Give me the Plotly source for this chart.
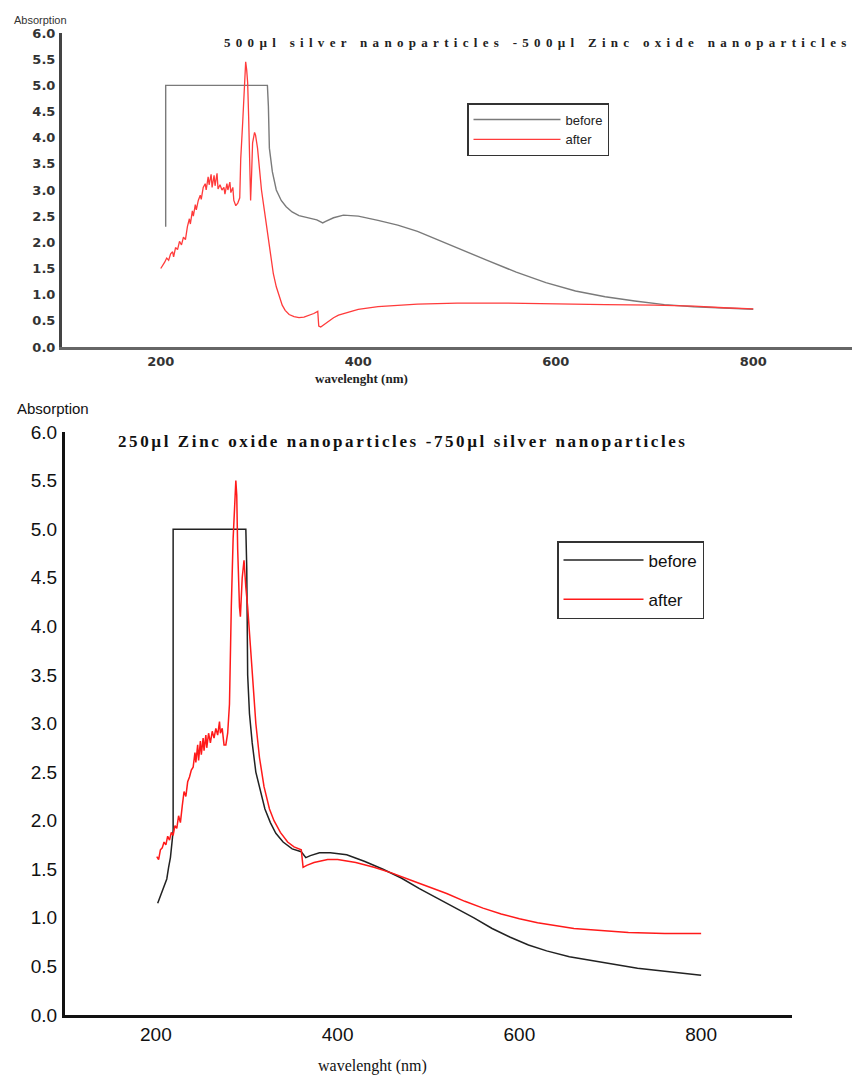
import plotly.graph_objects as go

# ---------------- data ----------------
top_title = "500µl silver nanoparticles -500µl Zinc oxide nanoparticles"
bottom_title = "250µl Zinc oxide nanoparticles -750µl silver nanoparticles"
series_names = ["before", "after"]
x_ticks = [200, 400, 600, 800]
y_ticks = [0.0, 0.5, 1.0, 1.5, 2.0, 2.5, 3.0, 3.5, 4.0, 4.5, 5.0, 5.5, 6.0]

top_before_wl = [205, 205, 308, 309, 310, 313, 317, 322, 327, 333, 340, 350, 358, 361, 364, 367,
                 375, 385, 400, 420, 440, 460, 480, 500, 530, 560, 590, 620, 650, 680, 710, 740, 770, 800]
top_before_abs = [2.30, 5.00, 5.00, 4.60, 3.80, 3.35, 3.00, 2.80, 2.68, 2.58, 2.51, 2.46, 2.43, 2.40, 2.37, 2.40,
                  2.47, 2.52, 2.50, 2.42, 2.33, 2.21, 2.05, 1.90, 1.66, 1.43, 1.23, 1.07, 0.96, 0.88, 0.81, 0.77, 0.74, 0.72]

top_after_wl = [200, 202, 204, 206, 208, 210, 212, 213, 215, 217, 219, 221, 223, 225, 227, 229, 230, 232, 233,
                235, 236, 238, 240, 241, 243, 245, 246, 248, 249, 251, 252, 254, 255, 257, 258, 260, 262, 264,
                265, 267, 268, 270, 271, 273, 274, 276, 278, 280, 281, 283, 285, 286, 287, 288, 289, 290, 291,
                292, 293, 295, 296, 298, 300, 302, 305, 308, 311, 314, 317, 320, 323, 326, 330, 335, 340, 345,
                350, 355, 359, 360, 362, 366, 370, 375, 380, 390, 400, 420, 440, 460, 480, 500, 550, 600, 650,
                700, 740, 770, 800]
top_after_abs = [1.50, 1.55, 1.62, 1.70, 1.66, 1.78, 1.82, 1.72, 1.90, 1.86, 2.02, 1.95, 2.10, 2.05, 2.30, 2.45,
                 2.35, 2.60, 2.50, 2.72, 2.62, 2.80, 2.90, 2.82, 3.05, 3.12, 3.00, 3.25, 3.10, 3.30, 3.05, 3.28,
                 3.08, 3.32, 3.02, 3.10, 3.00, 3.05, 2.92, 3.12, 3.00, 3.15, 2.95, 3.05, 2.80, 2.70, 2.75, 2.85,
                 3.60, 4.30, 5.20, 5.45, 5.30, 5.05, 4.40, 3.60, 2.80, 3.30, 3.90, 4.10, 4.05, 3.80, 3.40, 3.00,
                 2.60, 2.20, 1.75, 1.40, 1.15, 0.95, 0.80, 0.70, 0.62, 0.58, 0.56, 0.57, 0.60, 0.64, 0.68, 0.40,
                 0.38, 0.44, 0.50, 0.56, 0.61, 0.67, 0.72, 0.77, 0.80, 0.82, 0.83, 0.84, 0.84, 0.82, 0.81, 0.80,
                 0.78, 0.75, 0.73]

bottom_before_wl = [202, 204, 206, 208, 210, 212, 214, 216, 218, 219, 219, 299, 300, 301, 303, 306, 310, 315,
                    320, 326, 332, 340, 350, 360, 362, 365, 370, 380, 392, 410, 430, 450, 470, 490, 510, 530,
                    550, 570, 590, 610, 630, 655, 680, 705, 730, 760, 800]
bottom_before_abs = [1.15, 1.20, 1.24, 1.30, 1.33, 1.40, 1.52, 1.62, 1.80, 1.90, 5.00, 5.00, 4.60, 3.50, 3.10,
                     2.80, 2.50, 2.30, 2.12, 1.98, 1.87, 1.78, 1.71, 1.68, 1.66, 1.62, 1.64, 1.67, 1.67, 1.65,
                     1.58, 1.50, 1.41, 1.30, 1.20, 1.10, 1.00, 0.89, 0.80, 0.72, 0.66, 0.60, 0.56, 0.52, 0.48,
                     0.45, 0.41]

bottom_after_wl = [201, 203, 205, 207, 209, 211, 213, 215, 217, 219, 221, 223, 225, 227, 229, 231, 233, 235,
                   237, 239, 241, 243, 244, 246, 247, 249, 250, 252, 253, 255, 256, 258, 260, 262, 264, 266,
                   268, 270, 271, 273, 275, 277, 279, 281, 283, 285, 287, 288, 289, 290, 292, 293, 295, 297,
                   299, 301, 304, 307, 310, 314, 319, 325, 330, 337, 345, 352, 360, 362, 366, 374, 389, 400,
                   420, 440, 460, 480, 500, 520, 540, 560, 580, 600, 620, 640, 660, 690, 720, 760, 800]
bottom_after_abs = [1.63, 1.60, 1.70, 1.72, 1.78, 1.75, 1.84, 1.80, 1.88, 1.85, 1.95, 1.92, 2.05, 1.98, 2.15,
                    2.30, 2.25, 2.40, 2.45, 2.52, 2.55, 2.70, 2.60, 2.78, 2.62, 2.82, 2.68, 2.85, 2.72, 2.88,
                    2.75, 2.90, 2.80, 2.92, 2.85, 2.95, 2.88, 3.02, 2.90, 2.95, 2.78, 2.78, 2.90, 3.20, 4.20,
                    4.90, 5.30, 5.50, 5.35, 4.80, 4.20, 4.10, 4.50, 4.68, 4.40, 4.20, 3.80, 3.40, 3.00, 2.65,
                    2.35, 2.12, 2.00, 1.88, 1.78, 1.73, 1.70, 1.52, 1.54, 1.57, 1.60, 1.60, 1.57, 1.52, 1.46,
                    1.39, 1.32, 1.25, 1.17, 1.10, 1.04, 0.99, 0.95, 0.92, 0.89, 0.87, 0.85, 0.84, 0.84]

# ---------------- figure ----------------
W, H = 854, 1077
def px(x):
    return x / W
def py(y):
    return 1 - y / H

fig = go.Figure()

fig.add_trace(go.Scatter(x=top_before_wl, y=top_before_abs, mode="lines", name=series_names[0],
                         line=dict(color="#7a7a7a", width=1.4), xaxis="x", yaxis="y", legend="legend",
                         legendgroup="t1"))
fig.add_trace(go.Scatter(x=top_after_wl, y=top_after_abs, mode="lines", name=series_names[1],
                         line=dict(color="#ff3b3b", width=1.3), xaxis="x", yaxis="y", legend="legend",
                         legendgroup="t2"))
fig.add_trace(go.Scatter(x=bottom_before_wl, y=bottom_before_abs, mode="lines", name=series_names[0],
                         line=dict(color="#222222", width=1.5), xaxis="x2", yaxis="y2", legend="legend2",
                         legendgroup="b1"))
fig.add_trace(go.Scatter(x=bottom_after_wl, y=bottom_after_abs, mode="lines", name=series_names[1],
                         line=dict(color="#ff1a1a", width=1.5), xaxis="x2", yaxis="y2", legend="legend2",
                         legendgroup="b2"))

top_tick_font = dict(family="DejaVu Sans", size=13, color="#333333", weight="bold")
bot_tick_font = dict(family="Liberation Sans", size=19, color="#111111")

fig.update_layout(
    width=W, height=H,
    margin=dict(l=0, r=0, t=0, b=0, autoexpand=False),
    paper_bgcolor="white", plot_bgcolor="white",
    showlegend=True,
    xaxis=dict(domain=[px(62), px(852)], range=[100, 900], tickvals=x_ticks, automargin=False,
               showgrid=False, zeroline=False, showline=True, linecolor="#666666", linewidth=3,
               ticks="", tickfont=top_tick_font, anchor="y"),
    yaxis=dict(domain=[py(347), py(33)], range=[0, 6], tickvals=y_ticks, tickformat=".1f", automargin=False,
               showgrid=False, zeroline=False, showline=True, linecolor="#444444", linewidth=3,
               ticks="", tickfont=top_tick_font, anchor="x", ticklabelstandoff=1),
    xaxis2=dict(domain=[px(65), px(792)], range=[100, 900], tickvals=x_ticks, automargin=False,
                showgrid=False, zeroline=False, showline=True, linecolor="#111111", linewidth=3,
                ticks="", tickfont=bot_tick_font, anchor="y2"),
    yaxis2=dict(domain=[py(1015), py(432)], range=[0, 6], tickvals=y_ticks, tickformat=".1f", automargin=False,
                showgrid=False, zeroline=False, showline=True, linecolor="#111111", linewidth=3,
                ticks="", tickfont=bot_tick_font, anchor="x2", ticklabelstandoff=1),
    legend=dict(x=px(467), y=py(103), xanchor="left", yanchor="top",
                bordercolor="#333333", borderwidth=1.5, bgcolor="white",
                font=dict(family="Liberation Sans", size=13, color="#222222"),
                itemwidth=87, tracegroupgap=0, traceorder="grouped"),
    legend2=dict(x=px(557), y=py(541), xanchor="left", yanchor="top",
                 bordercolor="#333333", borderwidth=1.5, bgcolor="white",
                 font=dict(family="Liberation Sans", size=17, color="#111111"),
                 itemwidth=80, tracegroupgap=14, traceorder="grouped"),
)

annotations = [
    dict(text=f'<span style="letter-spacing:5.3px">{top_title}</span>', x=px(538), y=py(43),
         font=dict(family="Liberation Serif", size=13, color="#222222", weight="bold")),
    dict(text=f'<span style="letter-spacing:2.6px">{bottom_title}</span>', x=px(403), y=py(441),
         font=dict(family="Liberation Serif", size=17, color="#111111", weight="bold")),
    dict(text="Absorption", x=px(12), y=py(20), xanchor="left",
         font=dict(family="Liberation Sans", size=11, color="#333333")),
    dict(text="Absorption", x=px(15), y=py(408), xanchor="left",
         font=dict(family="Liberation Sans", size=15, color="#111111")),
    dict(text="wavelenght (nm)", x=px(361), y=py(378),
         font=dict(family="Liberation Serif", size=13, color="#222222", weight="bold")),
    dict(text="wavelenght (nm)", x=px(372), y=py(1066),
         font=dict(family="Liberation Serif", size=16, color="#111111")),
]
for a in annotations:
    a.setdefault("xanchor", "center")
    a.update(xref="paper", yref="paper", showarrow=False, yanchor="middle")
fig.update_layout(annotations=annotations)

fig.write_html("out.html", config={"displayModeBar": False},
               post_script="document.body.style.margin='0';document.body.style.overflow='hidden';")
